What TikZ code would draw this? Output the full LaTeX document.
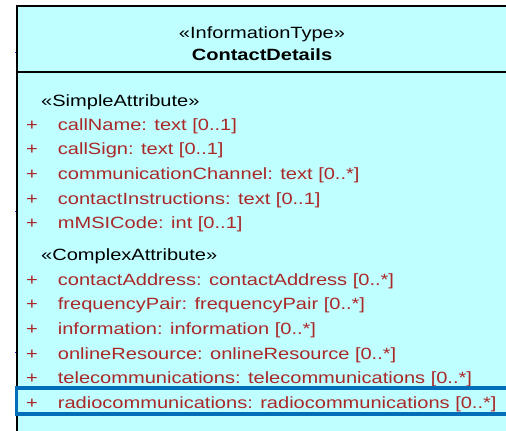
\documentclass[tikz,border=0pt]{standalone}
\usepackage{fontspec}
\setmainfont{Liberation Sans}[FakeStretch=1.23]
\definecolor{boxfill}{RGB}{192,255,255}
\definecolor{attrred}{RGB}{170,40,40}
\definecolor{hiblue}{RGB}{0,110,185}
\definecolor{tickblue}{RGB}{40,40,255}
\begin{document}
\begin{tikzpicture}[x=1pt,y=-1pt,
  attr/.style={anchor=base west,inner sep=0pt,text=attrred,font=\fontsize{16.3}{19}\selectfont},
  stereo/.style={anchor=base west,inner sep=0pt,text=black,font=\fontsize{16.3}{19}\selectfont},
  title/.style={anchor=base,inner sep=0pt,text=black,font=\fontsize{16.3}{19}\selectfont}]
\useasboundingbox (0,0) rectangle (506,431);
% class box
\path[fill=boxfill] (17,6) rectangle (508,440);
\draw[line width=2pt] (17,440) -- (17,6) -- (508,6);
\draw[line width=2pt] (17,72) -- (508,72);
% small blue ticks on left edge
\foreach \yy in {52,211,352} \draw[tickblue,line width=0.8pt] (15,\yy) -- (16.2,\yy);
% header
\node[title] (st) at (262,38.3) {«InformationType»};
\node[title,font=\fontsize{16.3}{19}\selectfont\bfseries] (nm) at (262,60) {ContactDetails};
% simple attributes
\node[stereo] (sa) at (41,106) {«SimpleAttribute»};
\foreach \yy/\txt [count=\i] in {130/{callName: text [0..1]},154.7/{callSign: text [0..1]},179.4/{communicationChannel: text [0..*]},204.1/{contactInstructions: text [0..1]},228.8/{mMSICode: int [0..1]}}{
  \node[attr] (sp\i) at (26,\yy) {+};
  \node[attr] (s\i) at (57.7,\yy) {\txt};
}
% complex attributes
\node[stereo] (ca) at (41,260) {«ComplexAttribute»};
\foreach \yy/\txt [count=\i] in {285/{contactAddress: contactAddress [0..*]},309.7/{frequencyPair: frequencyPair [0..*]},334.4/{information: information [0..*]},359.1/{onlineResource: onlineResource [0..*]},383.8/{telecommunications: telecommunications [0..*]},408.5/{radiocommunications: radiocommunications [0..*]}}{
  \node[attr] (cp\i) at (26,\yy) {+};
  \node[attr] (c\i) at (57.7,\yy) {\txt};
}
% highlight
\draw[hiblue,line width=3.5pt] (16.5,388) rectangle (508,414);
\end{tikzpicture}
\end{document}
